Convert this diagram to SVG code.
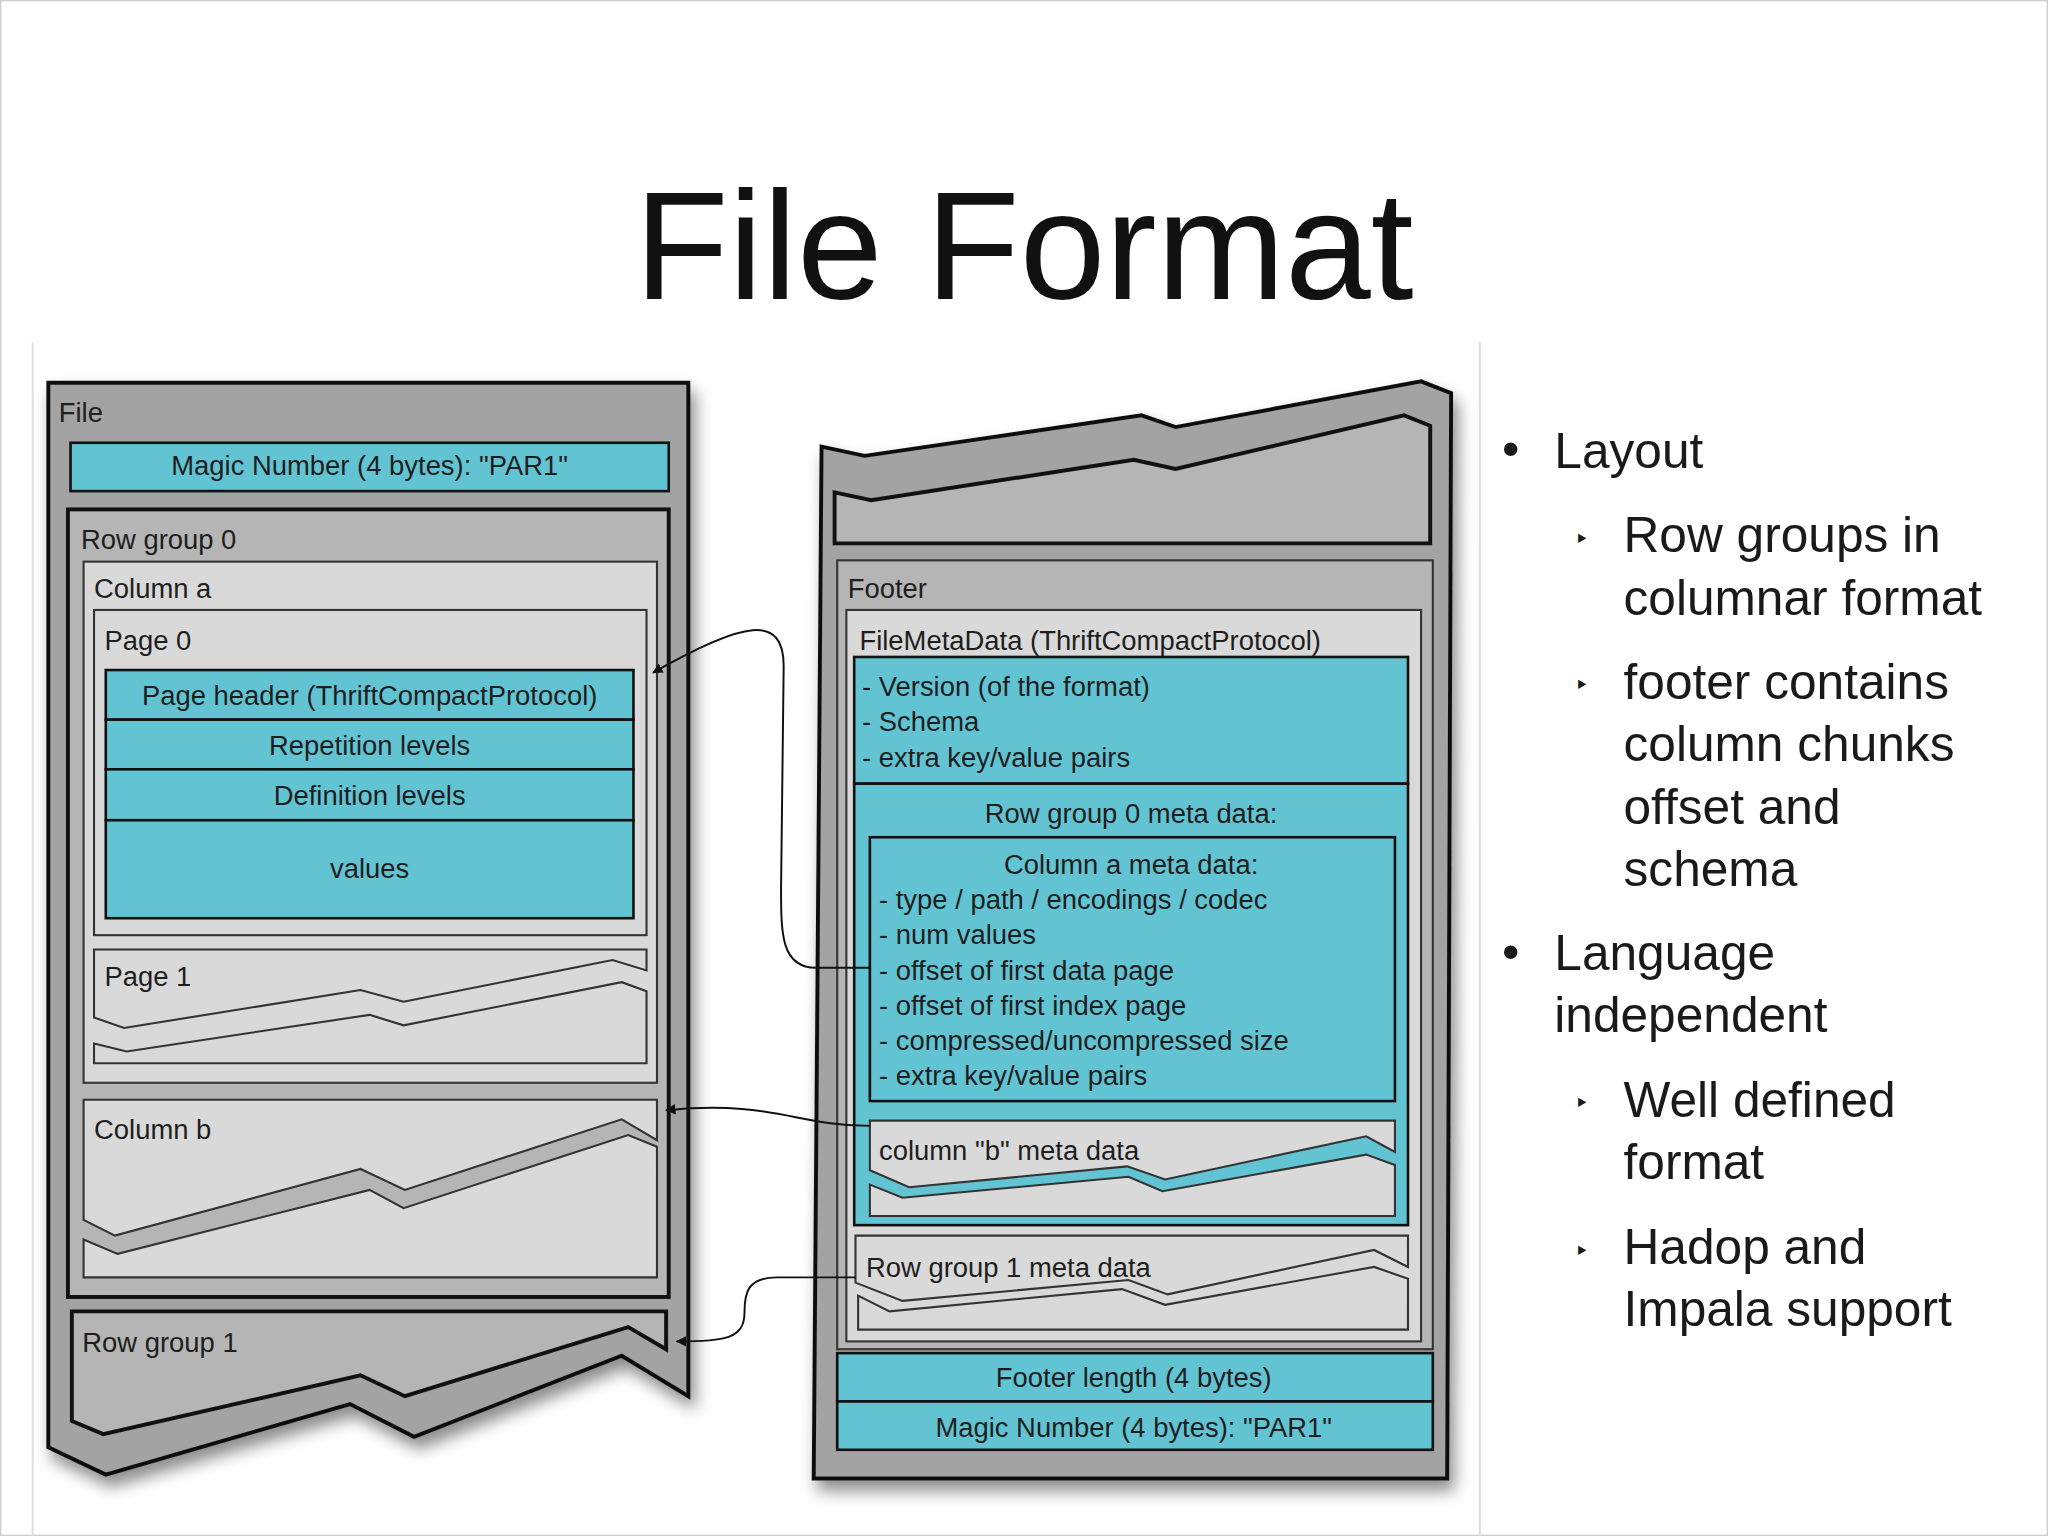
<svg xmlns="http://www.w3.org/2000/svg" width="2048" height="1536" viewBox="0 0 2048 1536">
<defs>
<style>
.t{font-family:"Liberation Sans",Arial,sans-serif;font-size:21px;fill:#1e1e1e}
.c{text-anchor:middle}
.b{font-family:"Liberation Sans",Arial,sans-serif;font-size:38px;fill:#1a1a1a}
.dk{fill:#a3a3a3;stroke:#111;stroke-width:3}
.md{fill:#b5b5b5;stroke:#111;stroke-width:3}
.lt{fill:#d9d9d9;stroke:#333;stroke-width:1.6}
.lt2{fill:#b5b5b5;stroke:#333;stroke-width:1.6}
.tl{fill:#62c4d3;stroke:#111;stroke-width:2}
.cn{fill:none;stroke:#111;stroke-width:1.5}
</style>
<filter id="sh" x="-10%" y="-10%" width="130%" height="130%"><feDropShadow dx="4" dy="8" stdDeviation="6" flood-color="#000" flood-opacity="0.45"/></filter>
<marker id="ar" viewBox="0 0 10 10" refX="9" refY="5" markerWidth="8" markerHeight="8" orient="auto" markerUnits="userSpaceOnUse"><path d="M0,0 L10,5 L0,10 z" fill="#111"/></marker>
</defs>
<rect width="2048" height="1536" fill="#fff"/>
<g transform="scale(1.30612)">
<rect x="0.5" y="0.5" width="1567" height="1175" fill="none" stroke="#ccc"/>
<line x1="25" y1="262" x2="25" y2="1176" stroke="#ddd" stroke-width="1.5"/>
<line x1="1133" y1="262" x2="1133" y2="1176" stroke="#ddd" stroke-width="1.5"/>
<text x="784" y="229" text-anchor="middle" style="font-family:'Liberation Sans',Arial,sans-serif;font-size:118px;fill:#111">File Format</text>

<g id="file">
<path class="dk" filter="url(#sh)" d="M37,293 L527,293 L527,1069 L476,1038 L317,1100 L268,1075 L81,1129 L37,1108 Z"/>
<text class="t" x="45" y="323">File</text>
</g>
<g id="magic-top"><rect class="tl" x="54" y="339" width="458" height="37"/><text class="t c" x="283" y="364">Magic Number (4 bytes): "PAR1"</text></g>
<g id="rowgroup0"><rect class="md" x="52" y="390" width="460" height="603"/><text class="t" x="62" y="420">Row group 0</text></g>
<g id="columna"><rect class="lt" x="64" y="430" width="439" height="399"/><text class="t" x="72" y="458">Column a</text></g>
<g id="page0"><rect class="lt" x="72" y="467" width="423" height="249"/><text class="t" x="80" y="498">Page 0</text>
<rect class="tl" x="81" y="513" width="404" height="38"/><text class="t c" x="283" y="540">Page header (ThriftCompactProtocol)</text>
<rect class="tl" x="81" y="551" width="404" height="38"/><text class="t c" x="283" y="578">Repetition levels</text>
<rect class="tl" x="81" y="589" width="404" height="39"/><text class="t c" x="283" y="616">Definition levels</text>
<rect class="tl" x="81" y="628" width="404" height="75"/><text class="t c" x="283" y="672">values</text>
</g>
<g id="page1">
<path class="lt" d="M72,727 L495,727 L495,743 L469,735 L309,767 L276,758 L95,787 L72,779 Z"/>
<path class="lt" d="M72,799 L97,805 L283,777 L309,785 L476,752 L495,759 L495,814 L72,814 Z"/>
<text class="t" x="80" y="755">Page 1</text>
</g>
<g id="columnb">
<path class="lt" d="M64,842 L503,842 L503,873 L476,857 L310,911 L276,895 L88,946 L64,934 Z"/>
<path class="lt" d="M64,949 L90,960 L283,911 L309,925 L481,869 L503,878 L503,978 L64,978 Z"/>
<text class="t" x="72" y="872">Column b</text>
</g>
<g id="rowgroup1">
<path class="md" d="M55,1004 L510,1004 L510,1033 L481,1016 L310,1069 L276,1053 L79,1098 L55,1088 Z"/>
<text class="t" x="63" y="1035">Row group 1</text>
</g>

<g id="rightfile">
<path class="dk" filter="url(#sh)" d="M629,342 L662,349 L874,318 L900,327 L1088,292 L1111,301 L1108,1132 L623,1132 Z"/>
<path class="md" d="M639,377 L667,383 L868,352 L900,359 L1075,318 L1095,326 L1095,416 L639,416 Z"/>
</g>
<g id="footer"><rect class="lt2" x="641" y="429" width="456" height="604"/><text class="t" x="649" y="458">Footer</text></g>
<g id="filemeta"><rect class="lt" x="648" y="467" width="440" height="560"/><text class="t" x="658" y="498">FileMetaData (ThriftCompactProtocol)</text>
<rect class="tl" x="654" y="503" width="424" height="97"/>
<text class="t" x="660" y="533">- Version (of the format)</text>
<text class="t" x="660" y="560">- Schema</text>
<text class="t" x="660" y="587">- extra key/value pairs</text>
</g>
<g id="rg0meta"><rect class="tl" x="654" y="600" width="424" height="338"/><text class="t c" x="866" y="630">Row group 0 meta data:</text></g>
<g id="colameta"><rect class="tl" x="666" y="641" width="402" height="202"/>
<text class="t c" x="866" y="669">Column a meta data:</text>
<text class="t" x="673" y="696">- type / path / encodings /  codec</text>
<text class="t" x="673" y="723">- num values</text>
<text class="t" x="673" y="750">- offset of first data page</text>
<text class="t" x="673" y="777">- offset of first index page</text>
<text class="t" x="673" y="804">- compressed/uncompressed size</text>
<text class="t" x="673" y="831">- extra key/value pairs</text>
</g>
<g id="colbmeta">
<path class="lt" d="M666,858 L1068,858 L1068,882 L1046,870 L892,903 L863,893 L696,909 L666,896 Z"/>
<path class="lt" d="M666,907 L691,917 L864,901 L890,912 L1046,884 L1068,892 L1068,931 L666,931 Z"/>
<text class="t" x="673" y="888">column "b" meta data</text>
</g>
<g id="rg1meta">
<path class="lt" d="M655,946 L1078,946 L1078,970 L1052,957 L894,991 L864,980 L691,996 L655,982 Z"/>
<path class="lt" d="M657,992 L681,1004 L859,987 L892,999 L1052,970 L1078,979 L1078,1018 L657,1018 Z"/>
<text class="t" x="663" y="978">Row group 1 meta data</text>
</g>
<g id="footerlen"><rect class="tl" x="641" y="1036" width="456" height="37"/><text class="t c" x="868" y="1062">Footer length (4 bytes)</text></g>
<g id="magic-bottom"><rect class="tl" x="641" y="1073" width="456" height="37"/><text class="t c" x="868" y="1100">Magic Number (4 bytes): "PAR1"</text></g>

<g id="connectors">
<path class="cn" marker-end="url(#ar)" d="M666,741 L625,741 C598,741 598,715 598,680 L600,510 C600,470 570,475 500,515"/>
<path class="cn" marker-end="url(#ar)" d="M666,862 C610,862 590,842 510,850"/>
<path class="cn" marker-end="url(#ar)" d="M655,978 L595,978 C572,978 570,990 570,1005 C570,1025 555,1027 518,1027"/>
</g>

<g id="bullets">
<text class="b" x="1150" y="357">•</text><text class="b" x="1190" y="358">Layout</text>
<text class="b" x="1207" y="421" style="font-size:24px">‣</text>
<text class="b" x="1243" y="423">Row groups in</text><text class="b" x="1243" y="471">columnar format</text>
<text class="b" x="1207" y="533" style="font-size:24px">‣</text>
<text class="b" x="1243" y="535">footer contains</text><text class="b" x="1243" y="583">column chunks</text>
<text class="b" x="1243" y="631">offset and</text><text class="b" x="1243" y="678">schema</text>
<text class="b" x="1150" y="742">•</text><text class="b" x="1190" y="743">Language</text><text class="b" x="1190" y="790">independent</text>
<text class="b" x="1207" y="853" style="font-size:24px">‣</text>
<text class="b" x="1243" y="855">Well defined</text><text class="b" x="1243" y="903">format</text>
<text class="b" x="1207" y="966" style="font-size:24px">‣</text>
<text class="b" x="1243" y="968">Hadop and</text><text class="b" x="1243" y="1015">Impala support</text>
</g>
</g>
</svg>
